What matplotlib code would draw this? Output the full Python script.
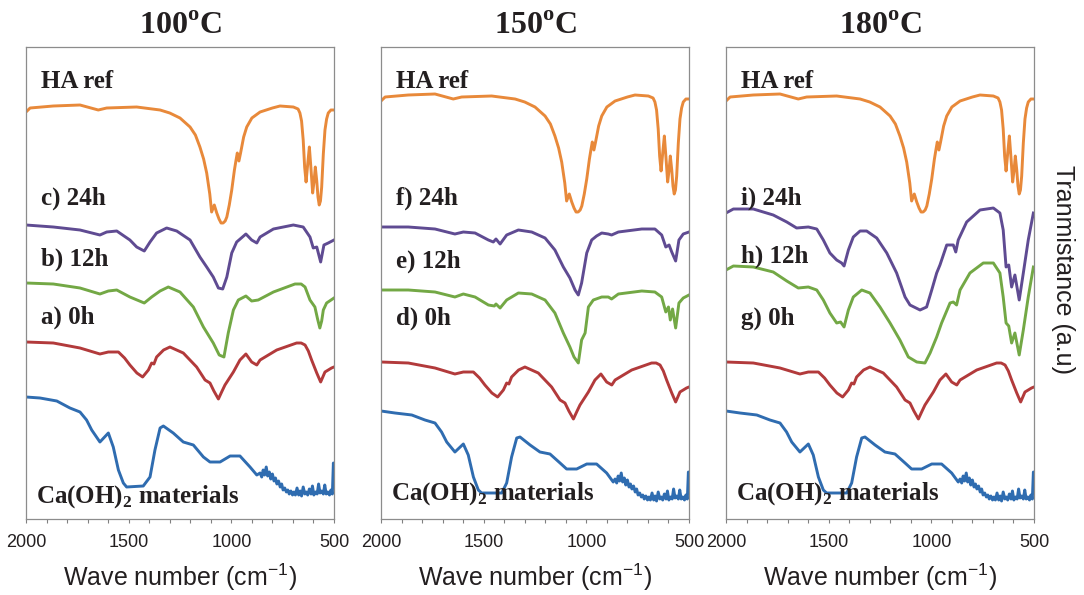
import matplotlib.pyplot as plt
from matplotlib.ticker import MultipleLocator

# FTIR spectra, transmittance in arbitrary units (stacked)

# HA reference (same in all three panels)
wn_ha = [2000, 1980, 1867, 1737, 1648, 1607, 1461, 1347, 1300, 1250, 1201, 1175,
         1153, 1135, 1120, 1105, 1096, 1083, 1071, 1060, 1050, 1040, 1030, 1022,
         1010, 998, 985, 977, 971, 963, 955, 940, 925, 900, 860, 800,
         763, 698, 675, 666, 658, 650, 643, 636, 628, 620, 612, 604, 597,
         591, 584, 578, 572, 566, 560, 552, 544, 536, 528, 515, 500]
au_ha = [407, 411, 413, 414, 409, 411, 412, 409, 406, 401, 392, 384,
         372, 360, 346, 325, 307, 314, 306, 300, 296, 296, 298, 302,
         314, 329, 349, 359, 366, 358, 366, 382, 392, 401, 407, 411,
         413, 412, 410, 406, 398, 379, 352, 337, 355, 372, 350, 326, 338,
         352, 338, 322, 314, 318, 332, 365, 389, 400, 406, 409, 409]

# 0h sample (same in all three panels)
wn_0h = [2000, 1867, 1737, 1640, 1599, 1550, 1520, 1494, 1460, 1432, 1404, 1388, 1377,
         1364, 1330, 1299, 1234, 1169, 1128, 1104, 1085, 1063, 1045, 1031, 990, 958,
         929, 901, 876, 860, 779, 682, 660, 641, 625, 609, 584, 565, 544, 512, 500]
au_0h = [177, 176, 171, 165, 167, 167, 161, 154, 146, 142, 149, 156, 155,
         162, 169, 172, 166, 152, 139, 136, 128, 120, 128, 134, 147, 159,
         165, 157, 154, 159, 169, 176, 176, 174, 168, 159, 146, 137, 147, 151, 152]

# Ca(OH)2 starting material, panel 1
wn_ca1 = [2000, 1932, 1850, 1786, 1737, 1705, 1680, 1640, 1599, 1575, 1550, 1526,
          1510, 1429, 1396, 1372, 1347, 1331, 1283, 1234, 1185, 1136, 1104, 1055,
          1006, 958, 909, 876, 860, 852, 845, 838, 830, 823, 815, 808, 800, 792,
          785, 778, 770, 762, 755, 748, 740, 732, 725, 718, 710, 702, 695, 688,
          680, 672, 665, 658, 650, 642, 635, 628, 620, 612, 605, 598, 590, 582,
          575, 568, 560, 552, 545, 538, 530, 522, 515, 508, 503, 501, 500]
au_ca1 = [122, 121, 118, 111, 107, 99, 89, 77, 86, 72, 49, 36,
          32, 33, 42, 69, 91, 93, 86, 77, 74, 62, 57, 57,
          63, 63, 52, 44, 46, 42, 49, 44, 52, 43, 47, 40, 45, 38,
          41, 35, 38, 32, 35, 29, 31, 27, 29, 25, 28, 24, 27, 24,
          31, 24, 28, 23, 32, 25, 27, 24, 30, 25, 33, 24, 27, 25,
          35, 26, 28, 25, 34, 25, 27, 24, 29, 25, 56, 50, 48]

# Ca(OH)2 starting material, panels 2 and 3
wn_ca2 = [2000, 1932, 1850, 1786, 1737, 1705, 1680, 1640, 1599, 1575, 1550, 1526,
          1510, 1412, 1388, 1364, 1339, 1323, 1274, 1226, 1177, 1128, 1096, 1047,
          998, 950, 901, 869, 860, 852, 845, 838, 830, 823, 815, 808, 800, 792,
          785, 778, 770, 762, 755, 748, 740, 732, 725, 718, 710, 702, 695, 688,
          680, 672, 665, 658, 650, 642, 635, 628, 620, 612, 605, 598, 590, 582,
          575, 568, 560, 552, 545, 538, 530, 522, 515, 508, 503, 501, 500]
au_ca2 = [108, 106, 104, 99, 96, 87, 77, 67, 75, 64, 42, 29,
          26, 26, 36, 62, 81, 82, 74, 67, 65, 56, 50, 50,
          55, 55, 46, 37, 40, 36, 43, 38, 46, 37, 41, 34, 39, 32,
          35, 30, 33, 27, 30, 24, 26, 22, 24, 20, 23, 19, 22, 19,
          26, 19, 23, 18, 27, 20, 22, 19, 25, 20, 28, 19, 22, 20,
          30, 21, 23, 20, 29, 20, 22, 19, 24, 20, 47, 45, 43]

# 100C: 12h and 24h
wn_p1_12h = [2000, 1867, 1737, 1640, 1599, 1558, 1494, 1424, 1388, 1347, 1307, 1250,
             1185, 1136, 1088, 1059, 1036, 1015, 990, 966, 929, 901, 869, 795,
             690, 660, 641, 617, 593, 580, 569, 560, 552, 536, 500]
au_p1_12h = [236, 235, 231, 225, 228, 229, 222, 216, 222, 228, 232, 227,
             212, 192, 176, 164, 162, 186, 209, 219, 223, 218, 219, 227,
             235, 235, 232, 219, 212, 200, 191, 198, 209, 216, 221]
wn_p1_24h = [2000, 1867, 1737, 1640, 1607, 1558, 1494, 1461, 1424, 1396, 1364, 1315,
             1266, 1201, 1153, 1120, 1088, 1063, 1042, 1022, 998, 974, 929, 901,
             876, 860, 795, 698, 650, 617, 601, 584, 565, 549, 528, 500]
au_p1_24h = [294, 292, 289, 284, 287, 288, 279, 272, 268, 277, 286, 291,
             288, 279, 262, 252, 242, 231, 230, 242, 266, 277, 285, 279,
             276, 282, 290, 294, 292, 282, 271, 272, 257, 274, 276, 279]

# 150C: 12h and 24h
wn_p2_12h = [2000, 1867, 1737, 1640, 1599, 1542, 1477, 1448, 1440, 1420, 1388, 1331,
             1266, 1201, 1153, 1112, 1080, 1060, 1039, 1023, 1006, 990, 966, 925,
             893, 877, 844, 730, 666, 633, 613, 600, 591, 580, 565, 549, 528, 500]
au_p2_12h = [229, 229, 227, 222, 225, 222, 214, 213, 215, 211, 219, 226,
             225, 219, 206, 186, 172, 162, 156, 179, 186, 212, 219, 222,
             222, 220, 225, 228, 227, 222, 207, 212, 199, 210, 191, 216, 221, 224]
wn_p2_24h = [2000, 1867, 1737, 1640, 1599, 1542, 1477, 1453, 1440, 1420, 1388, 1331,
             1266, 1201, 1153, 1112, 1080, 1055, 1039, 1023, 998, 974, 950, 925,
             893, 877, 844, 730, 666, 633, 613, 597, 584, 565, 549, 528, 500]
au_p2_24h = [292, 292, 290, 285, 287, 286, 279, 277, 280, 275, 284, 289,
             287, 281, 269, 252, 241, 229, 224, 236, 266, 279, 283, 286,
             285, 284, 287, 290, 290, 284, 272, 274, 267, 258, 279, 285, 287]

# 180C: 12h and 24h
wn_p3_12h = [2000, 1964, 1867, 1770, 1704, 1648, 1599, 1558, 1526, 1494, 1461, 1442,
             1425, 1404, 1380, 1339, 1299, 1250, 1201, 1153, 1112, 1071, 1031, 1006,
             974, 950, 909, 893, 877, 860, 812, 747, 698, 666, 650, 636, 623, 609,
             593, 572, 552, 528, 503]
au_p3_12h = [249, 253, 252, 247, 238, 231, 232, 229, 219, 206, 196, 197,
             192, 209, 222, 229, 226, 212, 196, 179, 162, 157, 156, 166,
             182, 196, 216, 217, 214, 229, 246, 256, 256, 246, 222, 196, 193, 176,
             186, 164, 189, 222, 252]
wn_p3_24h = [2000, 1964, 1867, 1770, 1704, 1656, 1599, 1558, 1526, 1494, 1461, 1437,
             1425, 1404, 1380, 1347, 1315, 1266, 1217, 1169, 1128, 1104, 1055, 1023,
             998, 974, 958, 925, 893, 881, 869, 828, 763, 698, 666, 650, 636, 623,
             609, 593, 572, 552, 528, 503]
au_p3_24h = [306, 310, 310, 304, 297, 291, 292, 290, 279, 266, 259, 256,
             253, 269, 282, 288, 288, 281, 266, 246, 222, 214, 209, 212,
             229, 246, 254, 274, 274, 267, 279, 297, 309, 311, 306, 289, 252, 254,
             232, 244, 219, 246, 279, 306]

titles = ['100', '150', '180']
labels_24h = ['c) 24h', 'f) 24h', 'i) 24h']
labels_12h = ['b) 12h', 'e) 12h', 'h) 12h']
labels_0h = ['a) 0h', 'd) 0h', 'g) 0h']

# vertical stacking shift of the shared spectra in each panel
ha_shift = [0, 11, 11]
oh_shift = [0, -20, -20]

c_orange = '#E8893A'
c_purple = '#5F4B92'
c_green = '#73A845'
c_red = '#B23A3B'
c_blue = '#2F6CB0'
c_text = '#231F20'

plt.rcParams['font.family'] = ['Liberation Sans', 'DejaVu Sans']
plt.rcParams['mathtext.fontset'] = 'custom'
plt.rcParams['mathtext.rm'] = 'Liberation Serif'
plt.rcParams['mathtext.bf'] = 'Liberation Serif:bold'
plt.rcParams['mathtext.sf'] = 'Liberation Sans'

fig = plt.figure(figsize=(10.84, 5.95), dpi=100)
lefts = [26 / 1084, 381 / 1084, 726 / 1084]

spec_12h = [(wn_p1_12h, au_p1_12h), (wn_p2_12h, au_p2_12h), (wn_p3_12h, au_p3_12h)]
spec_24h = [(wn_p1_24h, au_p1_24h), (wn_p2_24h, au_p2_24h), (wn_p3_24h, au_p3_24h)]
spec_ca = [(wn_ca1, au_ca1), (wn_ca2, au_ca2), (wn_ca2, au_ca2)]

# label baselines (a.u.) per panel
y_lab_ha = [431, 431, 431]
y_lab_24 = [314, 314, 314]
y_lab_12 = [253, 251, 256]
y_lab_0 = [195, 194, 194]
y_lab_ca = [16, 19, 19]

lw = 2.1
serif = dict(family='Liberation Serif', fontweight='bold', fontsize=18, color=c_text)

for i in range(3):
    ax = fig.add_axes([lefts[i], 76 / 595, 308 / 1084, 472 / 595])
    ax.plot(wn_ha, [v + ha_shift[i] for v in au_ha], color=c_orange, lw=lw)
    ax.plot(spec_24h[i][0], spec_24h[i][1], color=c_purple, lw=lw)
    ax.plot(spec_12h[i][0], spec_12h[i][1], color=c_green, lw=lw)
    ax.plot(wn_0h, [v + oh_shift[i] for v in au_0h], color=c_red, lw=lw)
    ax.plot(spec_ca[i][0], spec_ca[i][1], color=c_blue, lw=lw)

    ax.set_xlim(2000, 500)
    ax.set_ylim(0, 472)
    ax.set_xticks([2000, 1500, 1000, 500])
    ax.xaxis.set_minor_locator(MultipleLocator(100))
    ax.tick_params(axis='x', which='both', direction='out', length=3, width=0.8,
                   color='#808080', labelsize=13, pad=7.5, labelcolor=c_text)
    ax.set_yticks([])
    for sp in ax.spines.values():
        sp.set_color('#8C8C8C')
        sp.set_linewidth(0.9)

    ax.set_title(titles[i] + r'$^{\mathbf{o}}$C', family='Liberation Serif',
                 fontweight='bold', fontsize=23, color=c_text, pad=9)
    ax.set_xlabel(r'Wave number (cm$^{\mathsf{-1}}$)', fontsize=18, color=c_text,
                  labelpad=8)

    tr = ax.get_yaxis_transform()
    ax.text(0.049, y_lab_ha[i], 'HA ref', transform=tr, va='baseline', **serif)
    ax.text(0.049, y_lab_24[i], labels_24h[i], transform=tr, va='baseline', **serif)
    ax.text(0.049, y_lab_12[i], labels_12h[i], transform=tr, va='baseline', **serif)
    ax.text(0.049, y_lab_0[i], labels_0h[i], transform=tr, va='baseline', **serif)
    ax.text(0.032, y_lab_ca[i], r'Ca(OH)$_{\mathbf{2}}$ materials', transform=tr,
            va='baseline', **serif)

fig.text(1063 / 1084, 1 - 270 / 595, 'Tranmistance (a.u)', rotation=270,
         fontsize=18, color=c_text, ha='center', va='center')

fig.savefig('out.png', dpi=100)
